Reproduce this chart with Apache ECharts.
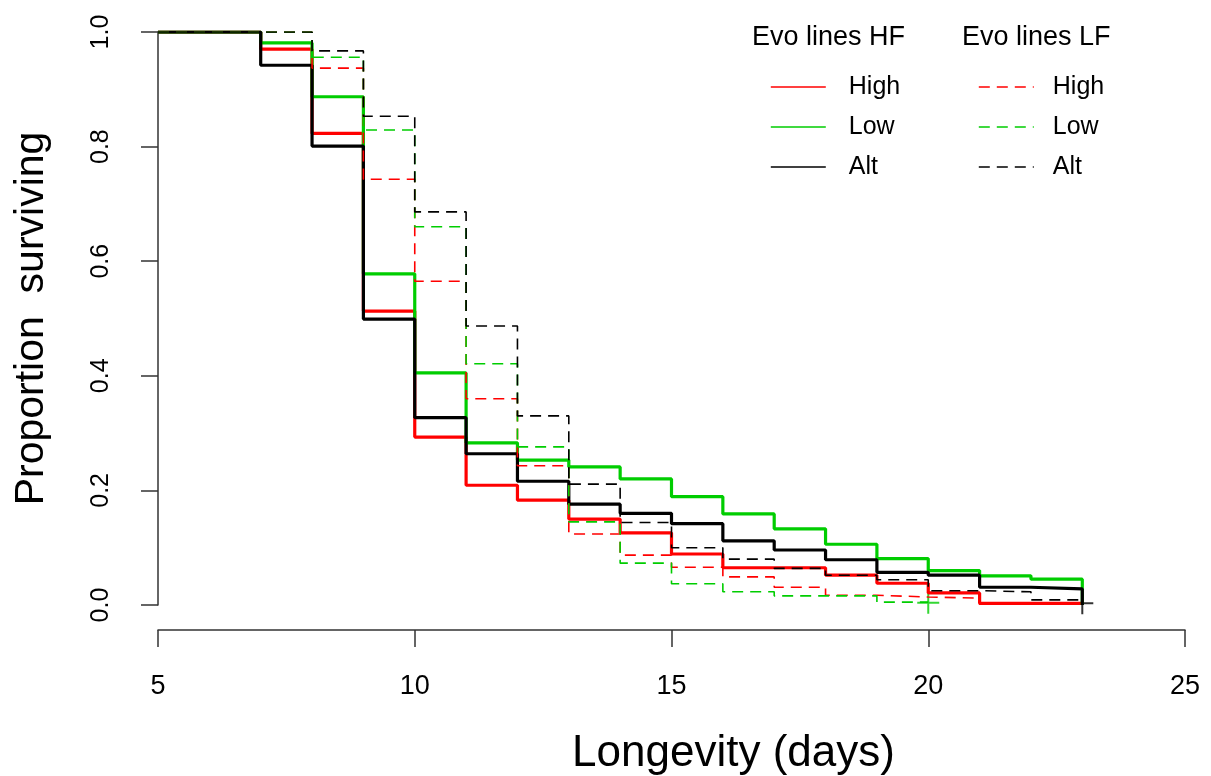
<!DOCTYPE html>
<html>
<head>
<meta charset="utf-8">
<title>Survival curves</title>
<script src="https://cdn.jsdelivr.net/npm/echarts@6/dist/echarts.min.js"></script>
<style>
  html, body { margin: 0; padding: 0; background: #fff; }
  #chart { width: 1211px; height: 776px; }
</style>
</head>
<body>
<div id="chart"></div>
<script>
// days at which the survival proportion changes
const days = [5, 7, 8, 9, 10, 11, 12, 13, 14, 15, 16, 17, 18, 19, 20, 21, 22, 23];

// Evo lines HF (solid)
const hfHigh = [1, 0.970, 0.823, 0.513, 0.293, 0.209, 0.183, 0.150, 0.126, 0.089, 0.065, 0.065, 0.052, 0.038, 0.021, 0.003, 0.003, 0];
const hfLow  = [1, 0.981, 0.887, 0.578, 0.405, 0.283, 0.253, 0.241, 0.220, 0.189, 0.159, 0.133, 0.106, 0.081, 0.060, 0.051, 0.045, 0];
const hfAlt  = [1, 0.942, 0.801, 0.499, 0.327, 0.264, 0.216, 0.176, 0.160, 0.142, 0.112, 0.096, 0.079, 0.057, 0.052, 0.031, 0.028, 0];

// Evo lines LF (dashed)
const lfHigh = [1, 1, 0.937, 0.743, 0.565, 0.360, 0.243, 0.124, 0.087, 0.066, 0.049, 0.031, 0.017, 0.014, 0.012, 0, null, null];
const lfLow  = [1, 1, 0.956, 0.829, 0.660, 0.421, 0.276, 0.145, 0.073, 0.037, 0.023, 0.016, 0.016, 0.005, 0.005, null, null, null];
const lfAlt  = [1, 1, 0.967, 0.853, 0.686, 0.487, 0.330, 0.211, 0.144, 0.100, 0.080, 0.064, 0.052, 0.044, 0.025, 0.023, 0.009, 0];

// censoring marks (+)
const censorGreen = [[20, 0.004]];
const censorBlack = [[23, 0.003]];

const xTicks = { min: 5, max: 25, step: 5 };
const yTicks = { min: 0, max: 1, step: 0.2 };

const RED = '#ff0000';
const GREEN = '#00cd00';
const BLACK = '#000000';
const FONT = 'Liberation Sans, Arial, sans-serif';

function toPoints(vals) {
  return days.map((d, i) => [d, vals[i]]).filter(p => p[1] != null);
}

function stepSeries(name, vals, color, dashed) {
  return {
    name: name,
    type: 'line',
    step: 'end',
    data: toPoints(vals),
    symbol: 'none',
    silent: true,
    animation: false,
    lineStyle: {
      color: color,
      width: dashed ? 1.6 : 3.2,
      type: dashed ? [11, 7] : 'solid'
    },
    itemStyle: { color: color }
  };
}

const plusPath = 'path://M-1,-11H1V11H-1Z M-11,-1H11V1H-11Z';

const legendBase = {
  orient: 'vertical', top: 74, padding: 0,
  itemWidth: 55, itemHeight: 14, itemGap: 14,
  lineStyle: { width: 1.6 },
  itemStyle: { opacity: 0 },
  selectedMode: false,
  formatter: n => n.split(' ')[1]
};

const chart = echarts.init(document.getElementById('chart'));
chart.setOption({
  backgroundColor: '#fff',
  animation: false,
  grid: { left: 158, right: 26, top: 32, bottom: 171, outerBoundsMode: 'none', containLabel: false },
  title: [
    { text: 'Evo lines HF', left: 752, top: 24, padding: 0, textStyle: { fontFamily: FONT, fontSize: 27, fontWeight: 'normal', color: '#000' } },
    { text: 'Evo lines LF', left: 962, top: 24, padding: 0, textStyle: { fontFamily: FONT, fontSize: 27, fontWeight: 'normal', color: '#000' } }
  ],
  legend: [
    Object.assign({}, legendBase, {
      data: ['HF High', 'HF Low', 'HF Alt'],
      left: 770,
      textStyle: { fontFamily: FONT, fontSize: 25, color: '#000', lineHeight: 26, padding: [0, 0, 0, 18] }
    }),
    Object.assign({}, legendBase, {
      data: ['LF High', 'LF Low', 'LF Alt'],
      left: 978,
      textStyle: { fontFamily: FONT, fontSize: 25, color: '#000', lineHeight: 26, padding: [0, 0, 0, 14] }
    })
  ],
  xAxis: {
    type: 'value',
    min: xTicks.min, max: xTicks.max, interval: xTicks.step,
    offset: 25,
    name: 'Longevity (days)',
    nameLocation: 'middle',
    nameGap: 102,
    nameTextStyle: { fontFamily: FONT, fontSize: 44, color: '#000', padding: [0, 0, 0, 124] },
    axisLine: { onZero: false, lineStyle: { color: '#333', width: 1.5 } },
    axisTick: { length: 17, lineStyle: { color: '#333', width: 1.5 } },
    axisLabel: { fontFamily: FONT, fontSize: 27, color: '#000', margin: 43 },
    splitLine: { show: false }
  },
  yAxis: {
    type: 'value',
    min: yTicks.min, max: yTicks.max, interval: yTicks.step,
    name: 'Proportion  surviving',
    nameLocation: 'middle',
    nameGap: 106,
    nameRotate: 90,
    nameTextStyle: { fontFamily: FONT, fontSize: 41, color: '#000' },
    axisLine: { show: true, lineStyle: { color: '#333', width: 1.5 } },
    axisTick: { show: true, length: 17, lineStyle: { color: '#333', width: 1.5 } },
    axisLabel: { fontFamily: FONT, fontSize: 25, color: '#000', rotate: 90, margin: 44, formatter: v => v.toFixed(1) },
    splitLine: { show: false }
  },
  series: [
    stepSeries('HF High', hfHigh, RED, false),
    stepSeries('HF Low', hfLow, GREEN, false),
    stepSeries('HF Alt', hfAlt, BLACK, false),
    stepSeries('LF High', lfHigh, RED, true),
    stepSeries('LF Low', lfLow, GREEN, true),
    stepSeries('LF Alt', lfAlt, BLACK, true),
    { type: 'scatter', data: censorGreen, symbol: plusPath, symbolSize: 22, itemStyle: { color: GREEN }, silent: true },
    { type: 'scatter', data: censorBlack, symbol: plusPath, symbolSize: 22, itemStyle: { color: BLACK }, silent: true }
  ]
});
</script>
</body>
</html>
